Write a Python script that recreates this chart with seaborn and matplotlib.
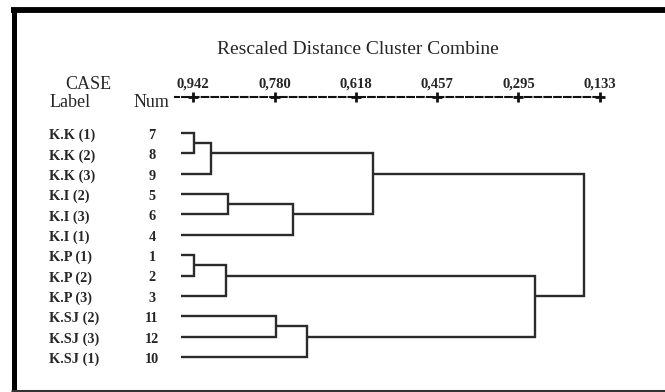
import matplotlib
matplotlib.use("Agg")
import numpy as np
import seaborn as sns
from matplotlib import pyplot as plt
from matplotlib.lines import Line2D
from matplotlib.transforms import blended_transform_factory

# cases (SPSS case number -> label)
case_num = [1, 2, 3, 4, 5, 6, 7, 8, 9, 10, 11, 12]
case_label = ["K.P (1)", "K.P (2)", "K.P (3)", "K.I (1)", "K.I (2)", "K.I (3)",
              "K.K (1)", "K.K (2)", "K.K (3)", "K.SJ (1)", "K.SJ (2)", "K.SJ (3)"]

# agglomeration schedule: new cluster ids start at 13
merge_a = [7, 1, 13, 14, 5, 11, 17, 18, 15, 16, 21]
merge_b = [8, 2, 9, 3, 6, 12, 4, 10, 19, 20, 22]
merge_dist = [0.940, 0.940, 0.906, 0.876, 0.872, 0.777, 0.743, 0.715, 0.584, 0.262, 0.165]

tick_vals = [0.942, 0.780, 0.618, 0.457, 0.295, 0.133]
tick_text = ["0,942", "0,780", "0,618", "0,457", "0,295", "0,133"]
leaf_start = 0.966
axis_start = 0.978

sns.set_style("white")
plt.rcParams['font.family'] = ['Liberation Serif', 'DejaVu Serif']

W, H = 665, 392
fig = plt.figure(figsize=(W / 100, H / 100), dpi=100)

# axes placed in pixel terms of the figure
x0, x1, ytop, ybot = 175, 640, 97, 380
ax = fig.add_axes([x0 / W, 1 - ybot / H, (x1 - x0) / W, (ybot - ytop) / H])
px_per_unit = (600 - 193) / (0.942 - 0.133)
ax.set_xlim(0.942 + (193 - x0) / px_per_unit, 0.942 - (x1 - 193) / px_per_unit)
row_h = 20.36
ax.set_ylim((ybot - 133) / row_h, -(133 - ytop) / row_h)

# build tree
children = {}
for k, (a, b) in enumerate(zip(merge_a, merge_b)):
    children[13 + k] = (a, b, merge_dist[k])
root = 12 + len(merge_a)

order = []
def walk(n):
    if n in children:
        walk(children[n][0]); walk(children[n][1])
    else:
        order.append(n)
walk(root)
row_of = {n: i for i, n in enumerate(order)}

def leaves(n):
    if n in children:
        return leaves(children[n][0]) + leaves(children[n][1])
    return [n]

def node_pos(n):
    if n not in children:
        return leaf_start, row_of[n]
    rows = sorted(row_of[l] for l in leaves(n))
    c = (rows[0] + rows[-1]) / 2
    if len(rows) > 2:
        c = rows[0] + (len(rows) - 1) // 2
    return children[n][2], c

lc = '#2b2b2b'
lw = 1.7
for n, (a, b, d) in children.items():
    xa, ya = node_pos(a)
    xb, yb = node_pos(b)
    ax.plot([xa, d, d, xb], [ya, ya, yb, yb], color=lc, lw=lw,
            solid_joinstyle='miter', solid_capstyle='butt')

# top dashed scale with + ticks
for s in ['left', 'right', 'bottom']:
    ax.spines[s].set_visible(False)
ax.spines['top'].set_linestyle((0, (3.2, 1.5)))
ax.spines['top'].set_linewidth(1.5)
ax.spines['top'].set_color('#111111')
ax.spines['top'].set_bounds(0.133, axis_start)
ax.xaxis.tick_top()
ax.set_xticks(tick_vals)
ax.set_xticklabels(tick_text, fontweight='bold', fontsize=10.5)
ax.tick_params(axis='x', length=0, pad=5, top=True, bottom=False)
ax.plot(tick_vals, [1] * len(tick_vals), ls='none', marker='+', ms=7, mew=2.0,
        color='#111111', transform=ax.get_xaxis_transform(), clip_on=False)
ax.set_yticks([])

# case labels and numbers
tr = blended_transform_factory(fig.transFigure, ax.transData)
for n in order:
    r = row_of[n]
    ax.text(49 / W, r + 0.12, case_label[n - 1], transform=tr, ha='left', va='center',
            fontweight='bold', fontsize=10.3)
    ax.text(152 / W, r + 0.12, str(case_num[n - 1]), transform=tr, ha='center', va='center',
            fontweight='bold', fontsize=10.3)

fig.text(358 / W, 1 - 50 / H, "Rescaled Distance Cluster Combine", ha='center', va='center', fontsize=14)
fig.text(88 / W, 1 - 89 / H, "CASE", ha='center', va='baseline', fontsize=13)
fig.text(70 / W, 1 - 107 / H, "Label", ha='center', va='baseline', fontsize=13)
fig.text(151 / W, 1 - 107 / H, "Num", ha='center', va='baseline', fontsize=13)

# frame
fig.add_artist(Line2D([13.5 / W, 13.5 / W], [0, 1 - 7.5 / H], color='black', lw=3.6,
                      transform=fig.transFigure, solid_capstyle='butt'))
fig.add_artist(Line2D([11 / W, 1], [1 - 10 / H, 1 - 10 / H], color='black', lw=4.2,
                      transform=fig.transFigure, solid_capstyle='butt'))
fig.add_artist(Line2D([11 / W, 1], [1.5 / H, 1.5 / H], color='#333333', lw=2.2,
                      transform=fig.transFigure, solid_capstyle='butt'))

fig.savefig("out.png", dpi=100)
